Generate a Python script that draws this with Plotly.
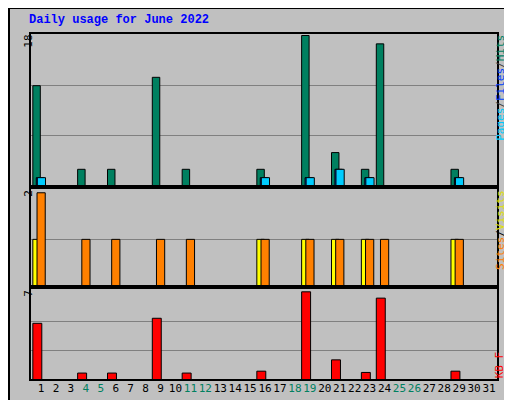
import plotly.graph_objects as go

days = list(range(1, 32))
hits  = [12,0,0,2,0,2,0,0,13,0,2,0,0,0,0,2,0,0,18,0,4,0,2,17,0,0,0,0,2,0,0]
files = [1,0,0,0,0,0,0,0,0,0,0,0,0,0,0,1,0,0,1,0,2,0,1,0,0,0,0,0,1,0,0]
pages = [1,0,0,0,0,0,0,0,0,0,0,0,0,0,0,1,0,0,1,0,2,0,1,0,0,0,0,0,1,0,0]
sites = [1,0,0,0,0,0,0,0,0,0,0,0,0,0,0,1,0,0,1,0,1,0,1,0,0,0,0,0,1,0,0]
visits= [2,0,0,1,0,1,0,0,1,0,1,0,0,0,0,1,0,0,1,0,1,0,1,1,0,0,0,0,1,0,0]
kbytes= [4.5,0,0,0.55,0,0.55,0,0,4.9,0,0.55,0,0,0,0,0.7,0,0,7,0,1.6,0,0.6,6.5,0,0,0,0,0.7,0,0]
weekend = {4,5,11,12,18,19,25,26}

ln = dict(color="black", width=1)
def bars(y, color, off, w, ya):
    xs = [d for d, v in zip(days, y) if v > 0]
    ys = [v for v in y if v > 0]
    return go.Bar(x=xs, y=ys, offset=off, width=w, marker=dict(color=color, line=ln),
                  yaxis=ya, showlegend=False, hoverinfo="skip")

fig = go.Figure()
fig.add_trace(bars(hits, "#008060", -0.55, 0.5, "y"))
fig.add_trace(bars(files, "#0040ff", -0.32, 0.5, "y"))
fig.add_trace(bars(pages, "#00ccff", -0.25, 0.55, "y"))
fig.add_trace(bars(sites, "#ffff00", -0.55, 0.5, "y2"))
fig.add_trace(bars(visits, "#ff8000", -0.27, 0.55, "y2"))
fig.add_trace(bars(kbytes, "#ff0000", -0.55, 0.6, "y3"))

ticktext = [f"<span style='color:{'#008060' if d in weekend else 'black'}'>{d}</span>" for d in days]
fig.update_layout(
    width=512, height=400, margin=dict(l=22, r=22, t=25, b=28, autoexpand=False),
    paper_bgcolor="#c0c0c0", plot_bgcolor="#c0c0c0", barmode="overlay",
    font=dict(family="DejaVu Sans Mono", size=11, color="black"),
    xaxis=dict(range=[0.26, 31.6], tickvals=days, ticktext=ticktext, showgrid=False, anchor="y3",
               ticks="", tickfont=dict(size=11), zeroline=False, automargin=False, tickangle=0),
    yaxis=dict(domain=[0.559, 1], range=[0, 18.3], tickvals=[6, 12], showticklabels=False,
               gridcolor="#808080", zeroline=False, automargin=False),
    yaxis2=dict(domain=[0.271, 0.553], range=[0, 2.1], tickvals=[1], showticklabels=False,
                gridcolor="#808080", zeroline=False, automargin=False),
    yaxis3=dict(domain=[0, 0.265], range=[0, 7.3], tickvals=[7/3, 14/3], showticklabels=False,
                gridcolor="#808080", zeroline=False, automargin=False),
)
shapes = []
for d in [(0.559, 1), (0.271, 0.553), (0, 0.265)]:
    shapes.append(dict(type="rect", xref="paper", yref="paper", x0=0, x1=1, y0=d[0], y1=d[1],
                       line=dict(color="black", width=2)))
shapes.append(dict(type="rect", xref="paper", yref="paper", x0=-21/468, x1=488/468, y0=-26/347, y1=372/347,
                   line=dict(color="black", width=2)))
fig.update_layout(shapes=shapes)
ann = [
    dict(text="<b>Daily usage for June 2022</b>", x=-3/468, y=1.062, xref="paper", yref="paper",
         xanchor="left", showarrow=False, font=dict(family="Liberation Mono", size=12, color="#0000ff")),
    dict(text="18", x=-0.022, y=1, xref="paper", yref="paper", yanchor="top", textangle=-90, showarrow=False),
    dict(text="2", x=-0.022, y=0.553, xref="paper", yref="paper", yanchor="top", textangle=-90, showarrow=False),
    dict(text="7", x=-0.022, y=0.265, xref="paper", yref="paper", yanchor="top", textangle=-90, showarrow=False),
    dict(text="<span style='color:#00ccff'>Pages</span>/<span style='color:#0040ff'>Files</span>/<span style='color:#008060'>Hits</span>",
         x=1.022, y=1, xref="paper", yref="paper", yanchor="top", textangle=-90, showarrow=False, font=dict(color="#404040")),
    dict(text="<span style='color:#ff8000'>Sites</span>/<span style='color:#e0e000'>Visits</span>",
         x=1.022, y=0.553, xref="paper", yref="paper", yanchor="top", textangle=-90, showarrow=False),
    dict(text="<span style='color:#ff0000'>KB F</span>",
         x=1.022, y=0, xref="paper", yref="paper", yanchor="bottom", textangle=-90, showarrow=False),
]
fig.update_layout(annotations=ann)
fig.write_html("out.html")
